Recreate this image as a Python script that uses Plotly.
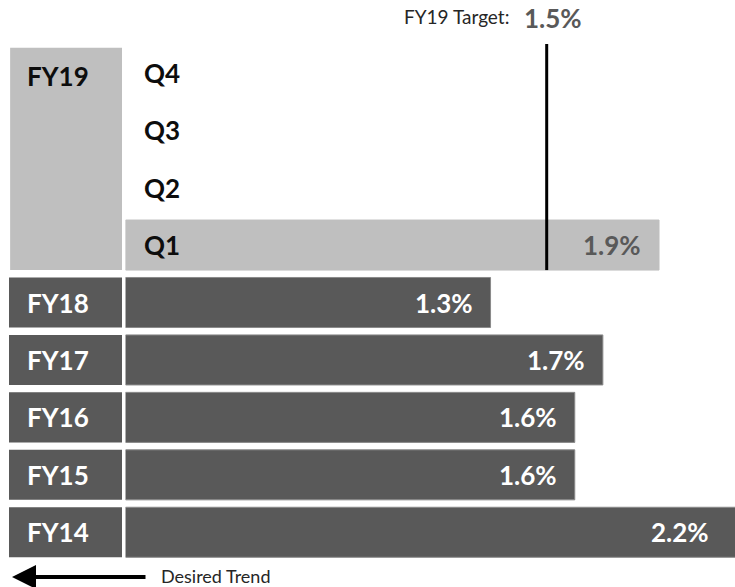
import plotly.graph_objects as go

# ---- data ----
row_order = ["Q4", "Q3", "Q2", "Q1", "FY18", "FY17", "FY16", "FY15", "FY14"]
quarter_labels = ["Q4", "Q3", "Q2", "Q1"]
bar_categories = ["Q1", "FY18", "FY17", "FY16", "FY15", "FY14"]
bar_values = [1.9, 1.3, 1.7, 1.6, 1.6, 2.2]
value_labels = ["1.9%", "1.3%", "1.7%", "1.6%", "1.6%", "2.2%"]
year_labels = ["FY18", "FY17", "FY16", "FY15", "FY14"]
current_year = "FY19"
target_value = 1.5
target_label = "1.5%"

# ---- style / layout (page body margin removed, figure fills the window) ----
DARK = "#595959"
LIGHT = "#bfbfbf"
FONT = "Lato"
W, H = 735, 587
M_T, M_B = 44.3, 26
X_LO = 125.5 / W            # main axis domain start
XMAX = (735 - 125.5) / 280.8
PX_PER_UNIT = 280.8
BAR_W = 0.871

bar_colors = [LIGHT] + [DARK] * (len(bar_values) - 1)
line_colors = [LIGHT] + ["#8a8a8a"] * (len(bar_values) - 1)

fig = go.Figure()

# main bars
fig.add_trace(go.Bar(
    y=bar_categories, x=bar_values, orientation="h",
    width=[BAR_W] * len(bar_values),
    marker=dict(color=bar_colors, line=dict(color=line_colors, width=1)),
    xaxis="x", yaxis="y", hoverinfo="skip", showlegend=False,
))

# label column boxes (past years)
fig.add_trace(go.Bar(
    y=year_labels, x=[1] * len(year_labels), orientation="h",
    width=[BAR_W] * len(year_labels),
    marker=dict(color=DARK, line=dict(width=0)),
    xaxis="x2", yaxis="y", hoverinfo="skip", showlegend=False,
))

shapes = []
# FY19 box spanning the four quarter rows
shapes.append(dict(
    type="rect", xref="x2", yref="y",
    x0=0.01, x1=1.01,
    y0=row_order.index(quarter_labels[0]) - BAR_W / 2,
    y1=row_order.index(quarter_labels[-1]) + BAR_W / 2,
    fillcolor=LIGHT, line=dict(width=0), layer="below",
))
# target line
shapes.append(dict(
    type="line", xref="x", yref="y",
    x0=target_value, x1=target_value,
    y0=row_order.index(quarter_labels[0]) - 0.5 - 0.01,
    y1=row_order.index("Q1") + BAR_W / 2,
    line=dict(color="black", width=3), layer="above",
))

annotations = []
big = dict(family=FONT, size=26, weight=700)

# year labels in left column
for lab in year_labels:
    annotations.append(dict(
        xref="x2", yref="y", x=0, y=lab, xanchor="left", xshift=16,
        text=lab, showarrow=False, font=dict(big, color="white"),
    ))
annotations.append(dict(
    xref="x2", yref="y", x=0, y=quarter_labels[0], xanchor="left", xshift=16, yshift=-3,
    text=current_year, showarrow=False, font=dict(big, color="#0d0d0d"),
))
# quarter labels
for q in quarter_labels:
    annotations.append(dict(
        xref="x", yref="y", x=0, y=q, xanchor="left", xshift=16,
        text=q, showarrow=False, font=dict(big, color="#0d0d0d"),
    ))
# value labels
for cat, v, lab, col in zip(bar_categories, bar_values, value_labels, bar_colors):
    xv = min(v, XMAX)
    shift = -16 - (v - xv) * PX_PER_UNIT
    annotations.append(dict(
        xref="x", yref="y", x=xv, y=cat, xanchor="right", xshift=shift,
        text=lab, showarrow=False,
        font=dict(big, color=DARK if col == LIGHT else "white"),
    ))
# target text
annotations.append(dict(
    xref="x", yref="paper", x=target_value, y=1, xanchor="right", yanchor="middle",
    xshift=-36, yshift=M_T - 17,
    text="FY19 Target:", showarrow=False,
    font=dict(family=FONT, size=19, color="#262626"),
))
annotations.append(dict(
    xref="x", yref="paper", x=target_value, y=1, xanchor="left", yanchor="top",
    xshift=-25, yshift=M_T,
    text=target_label, showarrow=False,
    font=dict(family=FONT, size=26, weight=700, color=DARK),
))
# desired trend arrow + text
annotations.append(dict(
    xref="paper", yref="paper", x=12 / W, y=0, yshift=-16,
    ax=135, ay=0, axref="pixel", ayref="pixel", text="",
    showarrow=True, arrowhead=2, arrowsize=1.2, arrowwidth=4, arrowcolor="black",
))
annotations.append(dict(
    xref="paper", yref="paper", x=159 / W, y=0, yshift=-15,
    xanchor="left", yanchor="middle", text="Desired Trend", showarrow=False,
    font=dict(family=FONT, size=18, color="#262626"),
))

hidden = dict(showgrid=False, zeroline=False, showticklabels=False, showline=False, ticks="")
fig.update_layout(
    width=W, height=H, autosize=False,
    margin=dict(l=0, r=0, t=M_T, b=M_B, pad=0),
    paper_bgcolor="white", plot_bgcolor="white",
    barmode="overlay",
    xaxis=dict(domain=[X_LO, 1], range=[0, XMAX], anchor="y", fixedrange=True, **hidden),
    xaxis2=dict(domain=[9 / W, 122 / W], range=[0, 1], anchor="y",
                fixedrange=True, **hidden),
    yaxis=dict(type="category", categoryorder="array", categoryarray=row_order,
               range=[len(row_order) - 0.5, -0.5], anchor="x", fixedrange=True, **hidden),
    shapes=shapes, annotations=annotations,
    font=dict(family=FONT),
)

fig.write_html(
    "out.html",
    config={"displayModeBar": False},
    post_script="document.body.style.margin='0px';document.body.style.overflow='hidden';",
)
